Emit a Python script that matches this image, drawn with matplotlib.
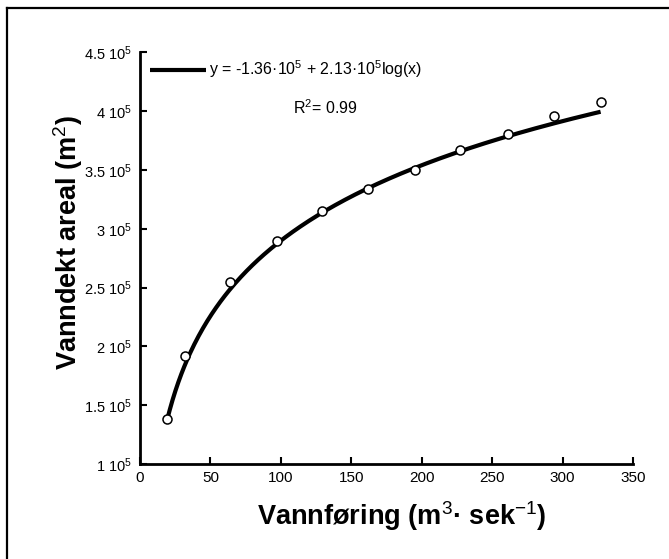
import numpy as np
import matplotlib.pyplot as plt
from matplotlib.lines import Line2D

plt.rcParams['font.family'] = ['Liberation Sans', 'DejaVu Sans']
plt.rcParams['mathtext.fontset'] = 'custom'
plt.rcParams['mathtext.rm'] = 'Liberation Sans'
plt.rcParams['mathtext.it'] = 'Liberation Sans:italic'
plt.rcParams['mathtext.bf'] = 'Liberation Sans:bold'

# observed points
discharge = [19, 32, 64, 97, 129, 162, 195, 227, 261, 294, 327]
area = [1.38e5, 1.92e5, 2.55e5, 2.90e5, 3.15e5, 3.34e5, 3.50e5, 3.67e5, 3.81e5, 3.96e5, 4.08e5]

# fitted log model, coefficients as printed on the chart
fit_a = -1.36e5
fit_b = 2.13e5

xticks = [0, 50, 100, 150, 200, 250, 300, 350]
yticks = [1e5, 1.5e5, 2e5, 2.5e5, 3e5, 3.5e5, 4e5, 4.5e5]
ytick_labels = ['1 10$^5$', '1.5 10$^5$', '2 10$^5$', '2.5 10$^5$',
                '3 10$^5$', '3.5 10$^5$', '4 10$^5$', '4.5 10$^5$']

fig = plt.figure(figsize=(6.69, 5.59), dpi=100)
ax = fig.add_axes([0.2093, 0.1699, 0.9462 - 0.2093, 0.9061 - 0.1699])

xfit = np.linspace(min(discharge), max(discharge), 300)
yfit = fit_a + fit_b * np.log10(xfit)
ax.plot(xfit, yfit, color='black', lw=3, solid_capstyle='butt',
        label='y = -1.36·10$^5$ + 2.13·10$^5$log(x)')
ax.plot(discharge, area, 'o', ms=6.5, mfc='white', mec='black', mew=1.1)

ax.set_xlim(0, 350)
ax.set_ylim(1e5, 4.5e5)
ax.set_xticks(xticks)
ax.set_yticks(yticks)
ax.set_yticklabels(ytick_labels)
ax.tick_params(direction='in', length=5, width=1.5, colors='black')
ax.tick_params(axis='x', labelsize=11, pad=5)
ax.tick_params(axis='y', labelsize=10.5, pad=6)

for s in ['top', 'right']:
    ax.spines[s].set_visible(False)
for s in ['left', 'bottom']:
    ax.spines[s].set_linewidth(2)

ax.set_xlabel('Vannføring (m$^3$· sek$^{-1}$)', fontsize=19.5, fontweight='bold', labelpad=10)
ax.set_ylabel('Vanndekt areal (m$^2$)', fontsize=19.5, fontweight='bold', labelpad=6)
ax.xaxis.set_label_coords(0.53, -0.085)
ax.yaxis.set_label_coords(-0.112, 0.537)

leg = ax.legend(loc='upper left', bbox_to_anchor=(0.02, 0.985), frameon=False,
                fontsize=11.5, handlelength=3.5, handletextpad=0.2, borderpad=0,
                borderaxespad=0)
ax.text(0.375, 0.866, 'R$^2$= 0.99', transform=ax.transAxes, fontsize=11.5,
        ha='center', va='center')

# scanned page frame (top and left edges)
fig.add_artist(Line2D([0.0105, 1.0], [0.986, 0.986], color='black', lw=1.6,
                      transform=fig.transFigure))
fig.add_artist(Line2D([0.0105, 0.0105], [0.0, 0.986], color='black', lw=1.6,
                      transform=fig.transFigure))

fig.savefig('out.png', dpi=100)
